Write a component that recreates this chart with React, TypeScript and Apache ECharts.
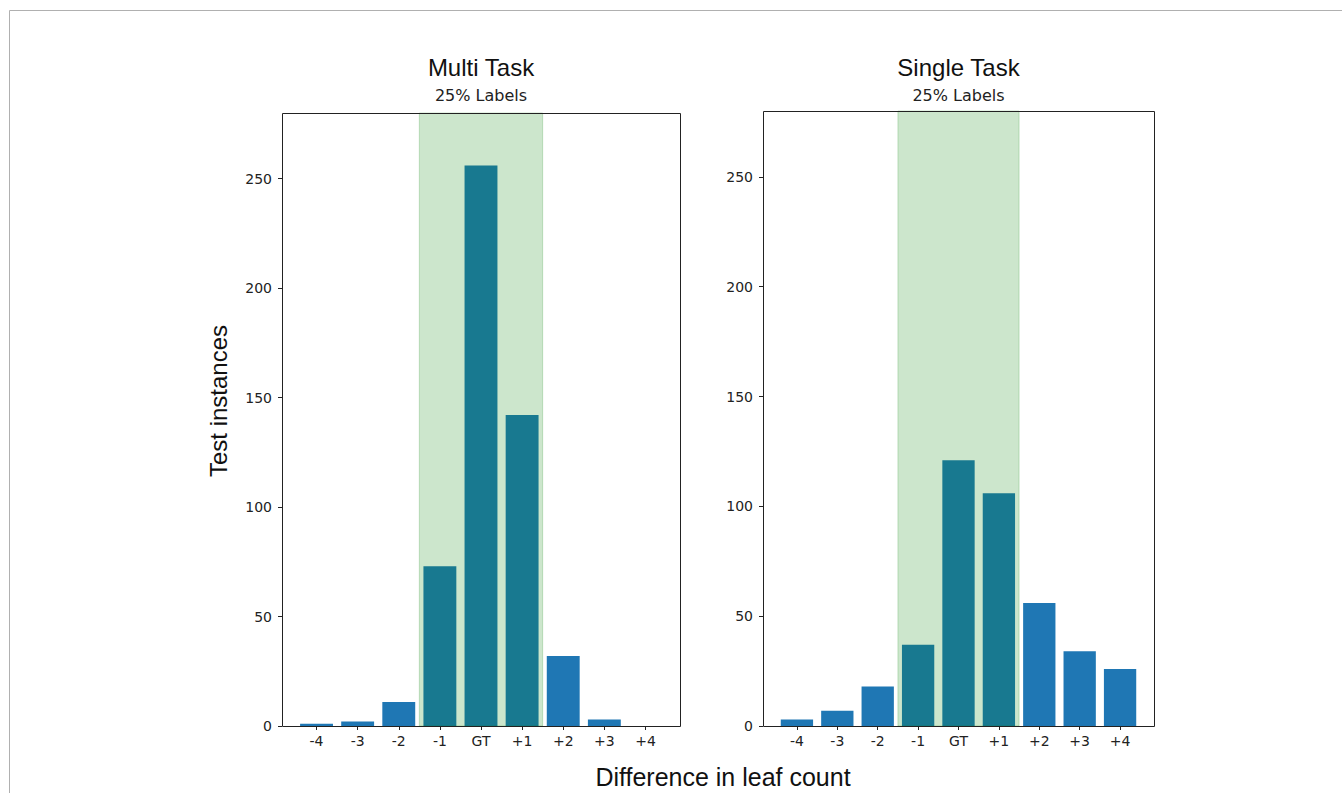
import React, { useEffect, useRef } from "react";
import * as echarts from "echarts";

const categories = ["-4", "-3", "-2", "-1", "GT", "+1", "+2", "+3", "+4"];
const multiTaskValues = [1, 2, 11, 73, 256, 142, 32, 3, 0];
const singleTaskValues = [3, 7, 18, 37, 121, 106, 56, 34, 26];
const yTicks = [0, 50, 100, 150, 200, 250];
const yMax = 280;
const bandStart = "-1";
const bandEnd = "+1";
const panelTitles = ["Multi Task", "Single Task"];
const panelSubtitle = "25% Labels";
const xAxisTitle = "Difference in leaf count";
const yAxisTitle = "Test instances";

const frames = [
  { left: 282, top: 113, width: 398, height: 613 },
  { left: 763, top: 111, width: 391, height: 615 },
];

const BAR_COLOR = "#1f77b4";
const BAND_COLOR = "rgba(0,128,0,0.2)";
const TEXT_COLOR = "#222";
const TICK_FONT = "DejaVu Sans";
const TITLE_FONT = "Liberation Sans";

export default function App() {
  const ref = useRef<HTMLDivElement>(null);

  useEffect(() => {
    if (!ref.current) return;
    const chart = echarts.init(ref.current, null, { renderer: "svg" });
    const datasets = [multiTaskValues, singleTaskValues];

    const grids: any[] = [];
    const xAxes: any[] = [];
    const yAxes: any[] = [];
    const series: any[] = [];
    const graphics: any[] = [];

    frames.forEach((f, i) => {
      const bw = f.width / 9.68;
      const gLeft = f.left + 0.34 * bw;
      const gWidth = 9 * bw;
      grids.push({
        left: gLeft,
        top: f.top,
        width: gWidth,
        height: f.height,
        containLabel: false,
        outerBoundsMode: "none",
      });
      xAxes.push({
        type: "category",
        gridIndex: i,
        data: categories,
        axisLine: { show: false },
        axisTick: {
          show: true,
          alignWithLabel: true,
          length: 4,
          lineStyle: { color: TEXT_COLOR, width: 1 },
        },
        axisLabel: {
          interval: 0,
          fontSize: 14,
          fontFamily: TICK_FONT,
          color: TEXT_COLOR,
          margin: 8,
        },
        splitLine: { show: false },
      });
      yAxes.push({
        type: "value",
        gridIndex: i,
        min: 0,
        max: yMax,
        position: "left",
        offset: gLeft - f.left,
        axisLine: { show: false },
        axisTick: {
          show: true,
          length: 4,
          customValues: yTicks,
          lineStyle: { color: TEXT_COLOR, width: 1 },
        },
        axisLabel: {
          customValues: yTicks,
          fontSize: 14,
          fontFamily: TICK_FONT,
          color: TEXT_COLOR,
          margin: 10,
        },
        splitLine: { show: false },
      });
      series.push({
        type: "bar",
        xAxisIndex: i,
        yAxisIndex: i,
        data: datasets[i],
        barWidth: "80%",
        itemStyle: { color: BAR_COLOR },
        z: 2,
      });
      series.push({
        type: "custom",
        xAxisIndex: i,
        yAxisIndex: i,
        z: 3,
        data: [[categories.indexOf(bandStart), categories.indexOf(bandEnd)]],
        renderItem: (params: any, api: any) => {
          const a = api.coord([api.value(0), yMax]);
          const b = api.coord([api.value(1), 0]);
          const w = api.size([1, 0])[0];
          return {
            type: "rect",
            shape: {
              x: a[0] - w / 2,
              y: a[1],
              width: b[0] - a[0] + w,
              height: b[1] - a[1],
            },
            style: { fill: BAND_COLOR, stroke: BAND_COLOR, lineWidth: 1 },
          };
        },
      });
      graphics.push({
        type: "rect",
        z: 100,
        shape: { x: f.left + 0.5, y: f.top + 0.5, width: f.width, height: f.height },
        style: { fill: "none", stroke: "#222", lineWidth: 1 },
      });
      graphics.push({
        type: "text",
        z: 100,
        x: f.left + f.width / 2,
        y: 67,
        style: {
          text: panelTitles[i],
          font: `24px "${TITLE_FONT}"`,
          fill: "#111",
          textAlign: "center",
          textVerticalAlign: "middle",
        },
      });
      graphics.push({
        type: "text",
        z: 100,
        x: f.left + f.width / 2,
        y: 95,
        style: {
          text: panelSubtitle,
          font: `16px "${TICK_FONT}"`,
          fill: TEXT_COLOR,
          textAlign: "center",
          textVerticalAlign: "middle",
        },
      });
    });

    graphics.push({
      type: "rect",
      z: 100,
      shape: { x: 9.5, y: 10.5, width: 1400, height: 900 },
      style: { fill: "none", stroke: "#b0b0b0", lineWidth: 1 },
    });
    graphics.push({
      type: "text",
      z: 100,
      x: 218,
      y: 401,
      rotation: Math.PI / 2,
      style: {
        text: yAxisTitle,
        font: `24px "${TITLE_FONT}"`,
        fill: "#111",
        textAlign: "center",
        textVerticalAlign: "middle",
      },
    });
    graphics.push({
      type: "text",
      z: 100,
      x: 723,
      y: 777,
      style: {
        text: xAxisTitle,
        font: `25px "${TITLE_FONT}"`,
        fill: "#111",
        textAlign: "center",
        textVerticalAlign: "middle",
      },
    });

    chart.setOption({
      animation: false,
      backgroundColor: "#fff",
      grid: grids,
      xAxis: xAxes,
      yAxis: yAxes,
      series,
      graphic: graphics,
    });

    return () => chart.dispose();
  }, []);

  return (
    <div
      ref={ref}
      style={{ position: "fixed", left: 0, top: 0, width: 1342, height: 793 }}
    />
  );
}
